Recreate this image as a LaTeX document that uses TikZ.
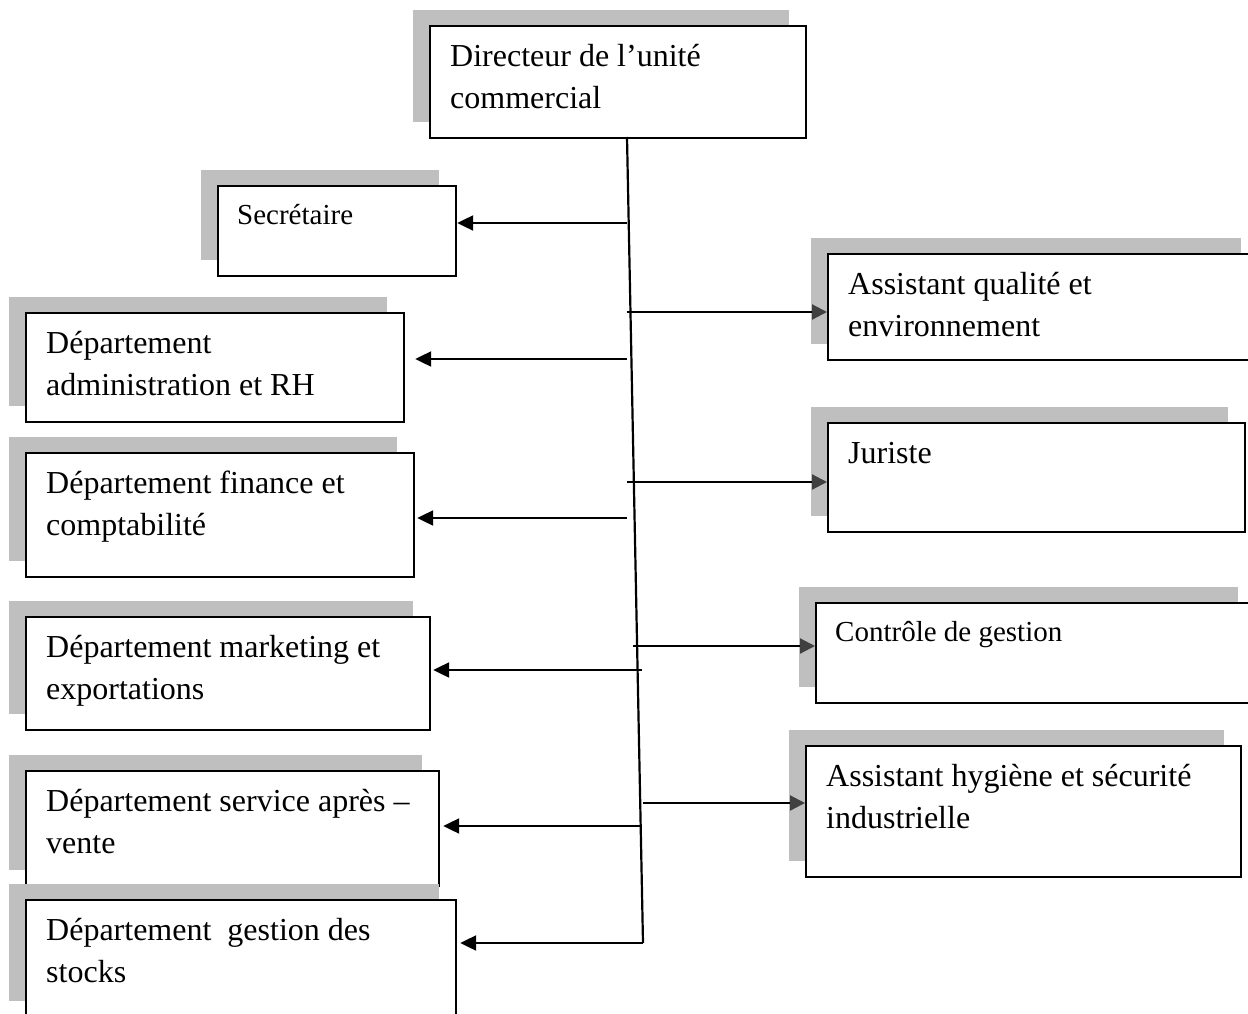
\documentclass[tikz,border=0pt]{standalone}
\usepackage{fontspec}
\setmainfont{Liberation Serif}
\usetikzlibrary{arrows.meta,shadows}
\definecolor{shadowgray}{HTML}{BFBFBF}
\definecolor{tipgray}{HTML}{404040}

\begin{document}
\begin{tikzpicture}[x=1pt,y=-1pt,
  unitbox/.style={draw=black, line width=2.2pt, fill=white, inner sep=0pt,
    anchor=north west,
    general shadow={fill=shadowgray, shadow xshift=-17pt, shadow yshift=16pt}},
  bigtext/.style={anchor=north west, inner sep=0pt, align=left,
    font=\fontsize{32}{42}\selectfont},
  smalltext/.style={anchor=north west, inner sep=0pt, align=left,
    font=\fontsize{29}{40}\selectfont},
  link/.style={line width=2.2pt},
  toleft/.style={link, -{Triangle[length=16pt,width=15pt]}},
  toright/.style={link, -{Triangle[length=15pt,width=15pt,color=tipgray]}},
]
\useasboundingbox (0,0) rectangle (1248,1014);
\clip (0,0) rectangle (1248,1014);

% boxes of the organisation chart
\node[unitbox, minimum width=376pt, minimum height=112pt] (dir)  at (429,25)  {};
\node[unitbox, minimum width=238pt, minimum height=90pt]  (sec)  at (217,185) {};
\node[unitbox, minimum width=430pt, minimum height=106pt] (qual) at (827,253) {};
\node[unitbox, minimum width=378pt, minimum height=109pt] (adm)  at (25,312)  {};
\node[unitbox, minimum width=417pt, minimum height=109pt] (jur)  at (827,422) {};
\node[unitbox, minimum width=388pt, minimum height=124pt] (fin)  at (25,452)  {};
\node[unitbox, minimum width=439pt, minimum height=100pt] (ctl)  at (815,602) {};
\node[unitbox, minimum width=404pt, minimum height=113pt] (mkt)  at (25,616)  {};
\node[unitbox, minimum width=435pt, minimum height=131pt] (hyg)  at (805,745) {};
\node[unitbox, minimum width=413pt, minimum height=115pt] (sav)  at (25,770)  {};
\node[unitbox, minimum width=430pt, minimum height=117pt] (stk)  at (25,899)  {};

% box texts (the rule fixes the first baseline below the box top)
\node[bigtext]   (dirT)  at (450,42)  {\rule{0pt}{24pt}Directeur de l’unité\\commercial};
\node[smalltext] (secT)  at (237,202) {\rule{0pt}{22pt}Secrétaire};
\node[bigtext]   (qualT) at (848,270) {\rule{0pt}{24pt}Assistant qualité et\\environnement};
\node[bigtext]   (admT)  at (46,329)  {\rule{0pt}{24pt}Département\\administration et RH};
\node[bigtext]   (jurT)  at (848,439) {\rule{0pt}{24pt}Juriste};
\node[bigtext]   (finT)  at (46,469)  {\rule{0pt}{24pt}Département finance et\\comptabilité};
\node[smalltext] (ctlT)  at (835,619) {\rule{0pt}{22pt}Contrôle de gestion};
\node[bigtext]   (mktT)  at (46,633)  {\rule{0pt}{24pt}Département marketing et\\exportations};
\node[bigtext]   (hygT)  at (826,762) {\rule{0pt}{24pt}Assistant hygiène et sécurité\\industrielle};
\node[bigtext]   (savT)  at (46,787)  {\rule{0pt}{24pt}Département service après –\\vente};
\node[bigtext]   (stkT)  at (46,916)  {\rule{0pt}{24pt}Département~ gestion des\\stocks};

% main spine below the director
\coordinate (spT) at (627,137);
\coordinate (spB) at (643,943);
\draw[link] (spT) -- (spB);

% branches from the spine
\coordinate (hSec)  at (627,223);
\coordinate (hQual) at (627,312);
\coordinate (hAdm)  at (627,359);
\coordinate (hJur)  at (627,482);
\coordinate (hFin)  at (627,518);
\coordinate (hCtl)  at (633,646);
\coordinate (hMkt)  at (642,670);
\coordinate (hHyg)  at (643,803);
\coordinate (hSav)  at (641,826);
\coordinate (hStk)  at (643,943);

\draw[toleft]  (hSec)  -- (hSec -| sec.east);
\draw[toright] (hQual) -- (hQual -| qual.west);
\draw[toleft, shorten >=10pt] (hAdm) -- (hAdm -| adm.east);
\draw[toright] (hJur)  -- (hJur -| jur.west);
\draw[toleft, shorten >=2pt] (hFin) -- (hFin -| fin.east);
\draw[toright] (hCtl)  -- (hCtl -| ctl.west);
\draw[toleft, shorten >=2pt] (hMkt) -- (hMkt -| mkt.east);
\draw[toright] (hHyg)  -- (hHyg -| hyg.west);
\draw[toleft, shorten >=3pt] (hSav) -- (hSav -| sav.east);
\draw[toleft, shorten >=3pt] (hStk) -- (hStk -| stk.east);
\end{tikzpicture}
\end{document}
